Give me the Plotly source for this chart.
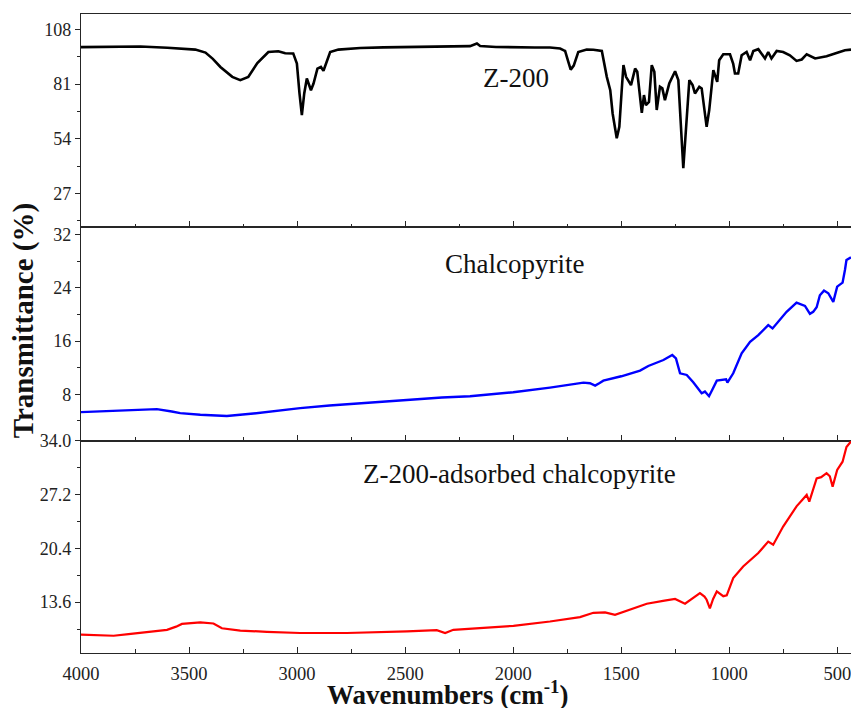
import plotly.graph_objects as go
from plotly.subplots import make_subplots

# ---------------- data ----------------
wn_z200 = [4000, 3850, 3725, 3600, 3471, 3424, 3390, 3355, 3300, 3263, 3226, 3184, 3133, 3087,
           3055, 3018, 3001, 2989, 2978, 2967, 2955, 2936, 2924, 2906, 2890, 2878, 2862, 2847,
           2809, 2708, 2600, 2462, 2350, 2246, 2200, 2168, 2153, 2080, 1999, 1900, 1830, 1783,
           1768, 1760, 1745, 1734, 1720, 1699, 1660, 1629, 1590, 1567, 1551, 1540, 1521, 1509,
           1498, 1490, 1478, 1463, 1455, 1436, 1426, 1405, 1395, 1386, 1372, 1359, 1347, 1336,
           1321, 1310, 1298, 1278, 1251, 1236, 1224, 1213, 1202, 1185, 1170, 1159, 1139, 1128,
           1105, 1093, 1074, 1056, 1047, 1028, 997, 982, 974, 959, 943, 920, 904, 889, 866,
           835, 820, 805, 781, 751, 720, 689, 665, 642, 603, 550, 504, 465, 437]
t_z200 = [99.3, 99.5, 99.6, 99.0, 98.1, 96.6, 93.5, 89.5, 84.6, 83.0, 84.6, 91.4, 96.9, 97.3,
          96.3, 96.2, 91.2, 76.4, 65.7, 76.4, 83.8, 78.0, 81.3, 88.7, 89.5, 87.6, 92.0, 96.9,
          98.1, 98.9, 99.2, 99.4, 99.4, 99.4, 99.8, 101.1, 99.9, 99.4, 99.1, 99.1, 99.1, 98.6,
          97.8, 97.4, 92.0, 88.2, 90.2, 96.9, 98.1, 98.0, 97.4, 84.6, 78.0, 66.5, 54.2, 59.9,
          78.0, 90.4, 84.6, 82.0, 80.5, 88.7, 87.1, 66.8, 75.6, 70.6, 72.2, 90.4, 87.1, 68.2,
          79.7, 78.9, 73.1, 81.3, 87.4, 83.0, 56.6, 39.4, 56.6, 83.0, 80.5, 76.4, 79.7, 78.9,
          59.9, 68.2, 87.9, 82.1, 92.8, 95.8, 95.8, 91.0, 86.3, 86.3, 95.3, 96.9, 92.8, 97.4,
          98.3, 93.7, 96.9, 93.7, 97.4, 96.9, 95.3, 92.5, 93.2, 95.8, 93.7, 94.8, 96.4, 97.8,
          98.1]

wn_chalco = [4000, 3911, 3780, 3649, 3580, 3541, 3448, 3370, 3325, 3202, 3100, 2986, 2850, 2700,
             2500, 2380, 2330, 2200, 2000, 1830, 1750, 1675, 1645, 1621, 1600, 1583, 1500, 1413,
             1375, 1305, 1264, 1247, 1228, 1197, 1167, 1128, 1113, 1094, 1080, 1058, 1015, 1009,
             982, 943, 904, 866, 820, 800, 735, 689, 650, 627, 612, 596, 581, 562, 542, 519,
             501, 476, 465, 458, 437]
t_chalco = [5.3, 5.4, 5.6, 5.75, 5.4, 5.15, 4.9, 4.75, 4.73, 5.1, 5.5, 5.9, 6.3, 6.65,
            7.1, 7.3, 7.5, 7.7, 8.3, 9.0, 9.4, 9.75, 9.65, 9.3, 9.7, 10.05, 10.7, 11.55,
            12.25, 13.15, 13.9, 13.4, 11.15, 10.9, 9.8, 8.15, 8.4, 7.7, 8.6, 10.05, 10.25, 9.75,
            11.15, 14.15, 15.9, 16.9, 18.4, 17.9, 20.4, 21.8, 21.3, 20.1, 20.4, 21.1, 22.9, 23.6,
            23.2, 21.9, 24.2, 24.8, 26.7, 28.2, 28.6]

wn_ads = [4000, 3930, 3849, 3780, 3726, 3650, 3602, 3560, 3533, 3448, 3387, 3348, 3263, 3140,
          2986, 2770, 2600, 2492, 2354, 2315, 2277, 2150, 1999, 1830, 1768, 1691, 1629, 1575,
          1529, 1450, 1382, 1300, 1251, 1205, 1165, 1136, 1115, 1105, 1090, 1075, 1058, 1028,
          1012, 982, 936, 866, 820, 797, 751, 689, 642, 630, 596, 575, 550, 535, 522, 501,
          476, 458, 437]
t_ads = [9.5, 9.45, 9.35, 9.55, 9.7, 9.9, 10.1, 10.5, 10.85, 11.05, 10.9, 10.3, 10.0, 9.85,
         9.7, 9.7, 9.8, 9.9, 10.05, 9.7, 10.1, 10.35, 10.6, 11.15, 11.4, 11.7, 12.25, 12.3,
         12.0, 12.7, 13.4, 13.8, 14.0, 13.4, 14.2, 14.75, 14.3, 13.9, 12.8, 14.0, 14.95, 14.35,
         14.45, 16.65, 18.1, 19.8, 21.25, 20.85, 23.15, 25.7, 27.15, 26.3, 29.25, 29.4, 29.9, 29.5, 28.2, 30.3,
         31.35, 33.2, 33.9]

x_ticks = [4000, 3500, 3000, 2500, 2000, 1500, 1000, 500]
labels = ["Z-200", "Chalcopyrite", "Z-200-adsorbed chalcopyrite"]

# ---------------- figure ----------------
FONT = "Liberation Serif"
AX = "#262626"

fig = make_subplots(rows=3, cols=1, shared_xaxes=True, vertical_spacing=0)
fig.add_trace(go.Scatter(x=wn_z200, y=t_z200, mode="lines",
                         line=dict(color="#000000", width=2.6)), row=1, col=1)
fig.add_trace(go.Scatter(x=wn_chalco, y=t_chalco, mode="lines",
                         line=dict(color="#0000FF", width=2.4)), row=2, col=1)
fig.add_trace(go.Scatter(x=wn_ads, y=t_ads, mode="lines",
                         line=dict(color="#FF0000", width=2.2)), row=3, col=1)

fig.update_layout(
    width=851, height=708,
    margin=dict(l=81, r=0, t=14, b=55),
    showlegend=False,
    plot_bgcolor="white", paper_bgcolor="white",
    font=dict(family=FONT, size=18, color="#222222"),
)

b1, b2 = 0.3322, 0.6659
fig.update_layout(
    yaxis=dict(domain=[b2, 1]),
    yaxis2=dict(domain=[b1, b2]),
    yaxis3=dict(domain=[0, b1]),
)

for i in (1, 2, 3):
    fig.update_xaxes(
        row=i, col=1,
        range=[4000, 437], tickmode="array", tickvals=x_ticks,
        showline=True, linecolor=AX, linewidth=1.3, mirror=True,
        ticks="inside", ticklen=6, tickwidth=1.2, tickcolor=AX,
        minor=dict(dtick=250, tick0=0, ticks="inside", ticklen=3.5, tickwidth=1.1, tickcolor=AX),
        showgrid=False, zeroline=False,
        showticklabels=(i == 3),
        ticklabelstandoff=4,
        ticklabeloverflow="allow",
        tickfont=dict(family=FONT, size=18.5, color="#222222"),
    )

ycommon = dict(showline=True, linecolor=AX, linewidth=1.3, mirror=False,
               ticks="outside", ticklen=5, tickwidth=1.2, tickcolor=AX,
               showgrid=False, zeroline=False,
               tickfont=dict(family=FONT, size=18, color="#222222"))
fig.update_yaxes(row=1, col=1, range=[10.1, 115.7], tick0=0, dtick=27,
                 minor=dict(dtick=13.5, tick0=0, ticks="outside", ticklen=3, tickcolor=AX), **ycommon)
fig.update_yaxes(row=2, col=1, range=[1.0, 33.1], tick0=0, dtick=8,
                 minor=dict(dtick=4, tick0=0, ticks="outside", ticklen=3, tickcolor=AX), **ycommon)
fig.update_yaxes(row=3, col=1, range=[7.17, 34.001], tick0=0, dtick=6.8, tickformat=".1f",
                 minor=dict(dtick=3.4, tick0=0, ticks="outside", ticklen=3, tickcolor=AX), **ycommon)

annots = [
    dict(text=labels[0], x=0.5647, y=0.8995),
    dict(text=labels[1], x=0.5628, y=0.6087),
    dict(text=labels[2], x=0.5692, y=0.2796),
]
for a in annots:
    fig.add_annotation(xref="paper", yref="paper", x=a["x"], y=a["y"], text=a["text"],
                       showarrow=False, xanchor="center", yanchor="middle",
                       font=dict(family=FONT, size=27, color="#111111"))

fig.add_annotation(xref="paper", yref="paper", x=-0.0736, y=0.5196,
                   text="<b>Transmittance (%)</b>", textangle=-90, showarrow=False,
                   xanchor="center", yanchor="middle",
                   font=dict(family=FONT, size=29, color="#111111"))
fig.add_annotation(xref="paper", yref="paper", x=0.4757, y=-0.0620,
                   text="<b>Wavenumbers (cm<sup>-1</sup>)</b>", showarrow=False,
                   xanchor="center", yanchor="middle",
                   font=dict(family=FONT, size=27, color="#111111"))

fig.write_html("out.html")
